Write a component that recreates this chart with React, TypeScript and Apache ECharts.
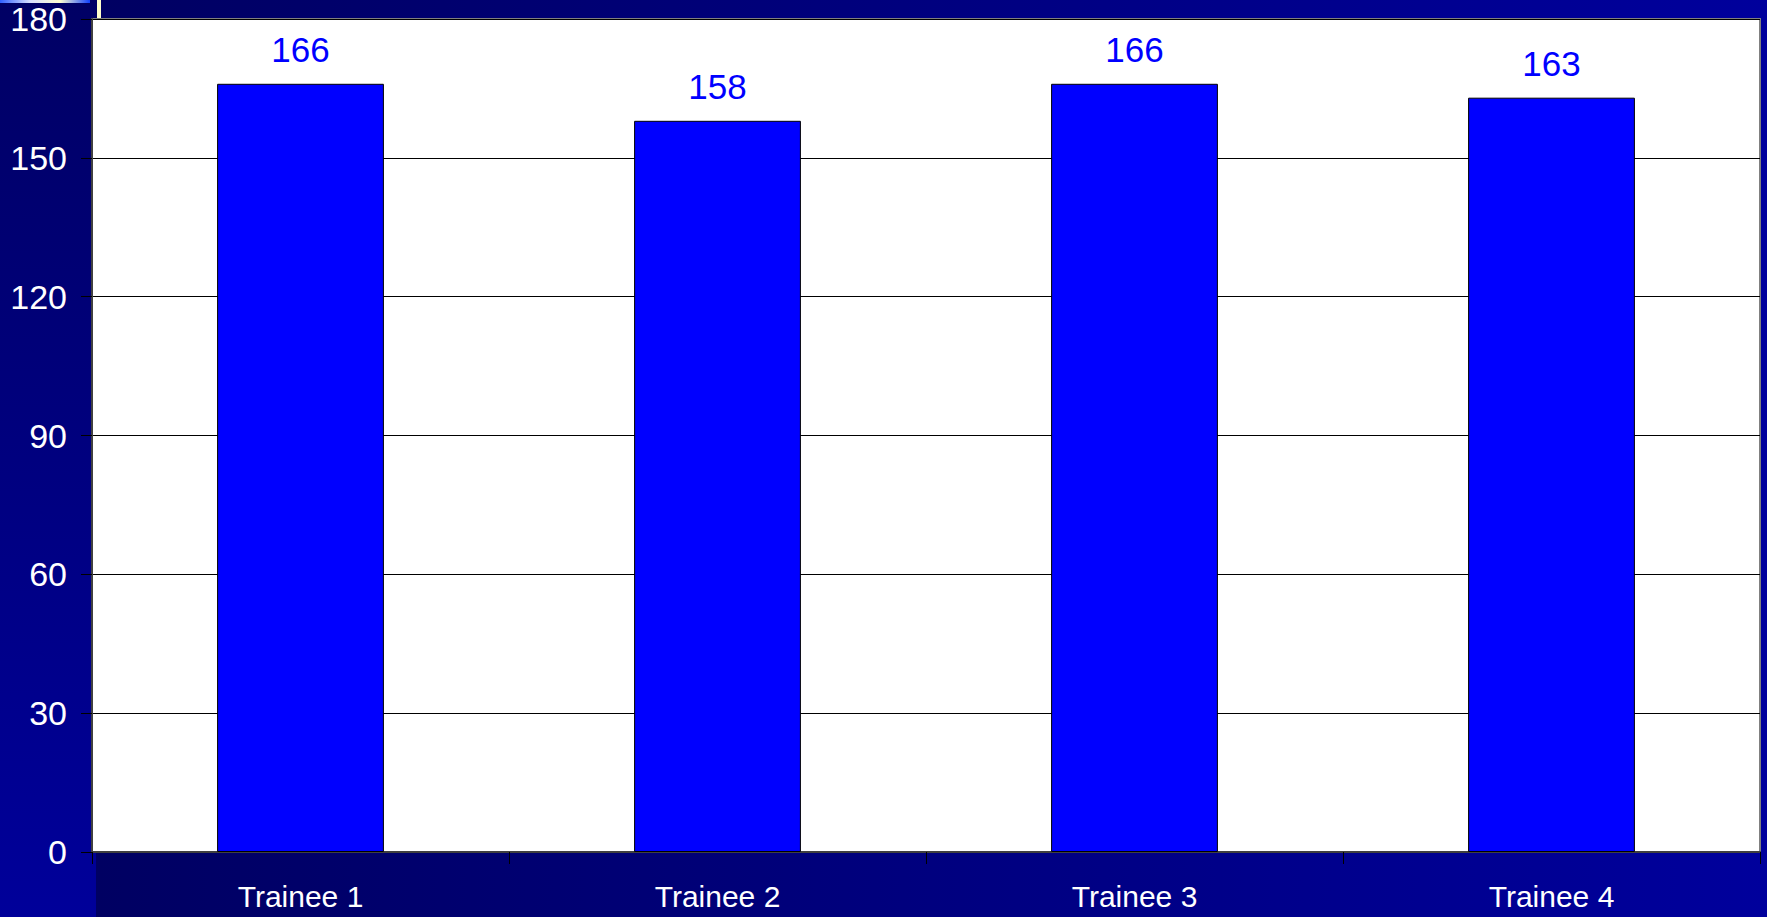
import React, { useEffect, useRef } from "react";
import * as echarts from "echarts";

const categories = ["Trainee 1", "Trainee 2", "Trainee 3", "Trainee 4"];
const values = [166, 158, 166, 163];
const yTicks = [0, 30, 60, 90, 120, 150, 180];

const FONT = "'Liberation Sans', Arial, Helvetica, sans-serif";

export default function App() {
  const ref = useRef<HTMLDivElement>(null);

  useEffect(() => {
    document.body.style.margin = "0";
    if (!ref.current) return;
    const chart = echarts.init(ref.current, null, { renderer: "svg" });
    chart.setOption({
      animation: false,
      backgroundColor: "transparent",
      grid: {
        left: 92,
        top: 19,
        right: 7,
        bottom: 65,
        show: true,
        backgroundColor: "#ffffff",
        borderColor: "#808080",
        borderWidth: 2,
      },
      xAxis: {
        type: "category",
        data: categories,
        boundaryGap: true,
        axisLine: { show: true, lineStyle: { color: "#404040", width: 2 } },
        axisTick: {
          show: true,
          length: 12,
          interval: 0,
          alignWithLabel: false,
          lineStyle: { color: "#000000", width: 1 },
        },
        axisLabel: {
          color: "#ffffff",
          fontSize: 30,
          lineHeight: 24,
          fontFamily: FONT,
          margin: 32,
          interval: 0,
        },
        splitLine: { show: false },
      },
      yAxis: {
        type: "value",
        min: yTicks[0],
        max: yTicks[yTicks.length - 1],
        interval: yTicks[1] - yTicks[0],
        axisLine: { show: true, lineStyle: { color: "#404040", width: 2 } },
        axisTick: {
          show: true,
          inside: false,
          length: 11,
          lineStyle: { color: "#000000", width: 1 },
        },
        axisLabel: {
          color: "#ffffff",
          fontSize: 34,
          fontFamily: FONT,
          margin: 25,
        },
        splitLine: { show: true, lineStyle: { color: "#000000", width: 1 } },
      },
      series: [
        {
          type: "bar",
          data: values,
          barWidth: "40%",
          itemStyle: { color: "#0000ff", borderColor: "#000000", borderWidth: 1 },
          label: {
            show: true,
            position: "top",
            distance: 17,
            color: "#0000ff",
            fontSize: 35,
            fontFamily: FONT,
          },
        },
      ],
    });
    return () => chart.dispose();
  }, []);

  return (
    <div
      style={{
        position: "relative",
        width: 1767,
        height: 917,
        overflow: "hidden",
        background: "linear-gradient(to bottom, #000064, #00009a)",
      }}
    >
      <div
        style={{
          position: "absolute",
          left: 96,
          top: 0,
          width: 1671,
          height: 917,
          background: "linear-gradient(to right, #000062, #00009c)",
        }}
      />
      <div
        style={{
          position: "absolute",
          left: 0,
          top: 0,
          width: 90,
          height: 3,
          background: "linear-gradient(to right, #3060ff, #d8e0ff, #ffffd0, #1040ff)",
        }}
      />
      <div
        style={{
          position: "absolute",
          left: 97,
          top: 0,
          width: 4,
          height: 18,
          background: "#ffffcc",
        }}
      />
      <div
        ref={ref}
        style={{ position: "absolute", left: 0, top: 0, width: 1767, height: 917 }}
      />
    </div>
  );
}
